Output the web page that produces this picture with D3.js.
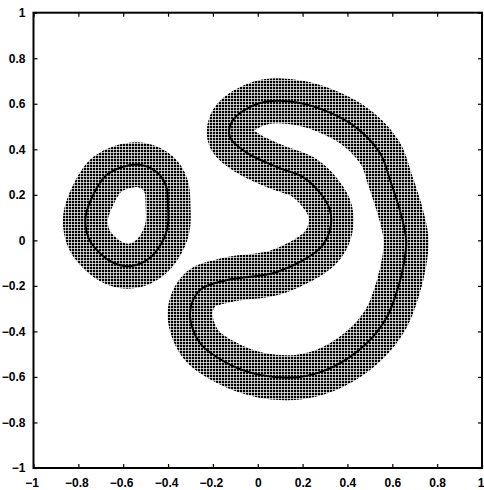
<!DOCTYPE html>
<html>
<head>
<meta charset="utf-8">
<script src="https://cdn.jsdelivr.net/npm/d3@7"></script>
<style>
  html, body { margin: 0; padding: 0; background: #fff; }
  svg { display: block; }
  .tick text { font-family: "Liberation Sans", Arial, sans-serif; font-weight: bold; font-size: 12px; fill: #000; }
</style>
</head>
<body>
<svg id="chart" width="484" height="490"></svg>
<script>
// ---- data ----
const xTicks = [-1, -0.8, -0.6, -0.4, -0.2, 0, 0.2, 0.4, 0.6, 0.8, 1];
const yTicks = [-1, -0.8, -0.6, -0.4, -0.2, 0, 0.2, 0.4, 0.6, 0.8, 1];

// closed curve of the small ring (x, y)
const ringX = [-0.519, -0.445, -0.408, -0.400, -0.400, -0.415, -0.475, -0.564, -0.653, -0.742, -0.765, -0.765, -0.682, -0.608];
const ringY = [ 0.331,  0.295,  0.236,  0.148,  0.075,  0.016, -0.072, -0.113, -0.094, -0.013,  0.045,  0.119,  0.280,  0.321];

// closed S-shaped curve (x, y)
const sX = [-0.258, -0.137, 0.086, 0.278, 0.322, 0.322, 0.278, 0.202, 0.086, -0.048, -0.124, -0.110, 0.010, 0.188, 0.411, 0.545, 0.590, 0.640, 0.662, 0.652, 0.625, 0.576, 0.487, 0.336, 0.188, 0.010, -0.137, -0.258, -0.302];
const sY = [-0.218, -0.174, -0.139, -0.034, 0.045, 0.133, 0.208, 0.278, 0.322, 0.384, 0.454, 0.529, 0.603, 0.603, 0.515, 0.384, 0.265, 0.110, 0.000, -0.100, -0.210, -0.337, -0.451, -0.556, -0.600, -0.591, -0.539, -0.451, -0.319];

// half-width of the band of grid points around each curve (data units)
const bandHalf = 0.1;
// spacing of the grid points (data units)
const gridStep = 0.0134;

// ---- layout ----
const svg = d3.select("#chart");
const mLeft = 33.5, mRight = 482, mTop = 12.7, mBottom = 468;
const x = d3.scaleLinear().domain([-1, 1]).range([mLeft, mRight]);
const y = d3.scaleLinear().domain([-1, 1]).range([mBottom, mTop]);

const fmt = d => d === 0 ? "0" : d3.format("~g")(d).replace("-", "\u2212");

// dot pattern
const cell = Math.round(x(gridStep) - x(0));
const defs = svg.append("defs");
const pat = defs.append("pattern")
  .attr("id", "dots")
  .attr("patternUnits", "userSpaceOnUse")
  .attr("x", 0).attr("y", 0)
  .attr("width", cell).attr("height", cell);
pat.append("rect").attr("x", 0).attr("y", 0).attr("width", cell - 0.7).attr("height", cell - 0.7).attr("fill", "#000");

const line = d3.line().x(d => x(d[0])).y(d => y(d[1])).curve(d3.curveCatmullRomClosed.alpha(0.5));
const ring = ringX.map((v, i) => [v, ringY[i]]);
const sCurve = sX.map((v, i) => [v, sY[i]]);
const bandW = x(bandHalf) - x(-bandHalf);

// bands of grid points
[ring, sCurve].forEach(c => {
  svg.append("path").attr("d", line(c))
    .attr("fill", "none")
    .attr("stroke", "url(#dots)")
    .attr("stroke-width", bandW)
    .attr("stroke-linejoin", "round");
});
// curves
[ring, sCurve].forEach(c => {
  svg.append("path").attr("d", line(c))
    .attr("fill", "none")
    .attr("stroke", "#000")
    .attr("stroke-width", 2);
});

// axes (MATLAB box style, inward ticks)
const tl = 4;
svg.append("g").attr("transform", `translate(0,${mBottom})`)
  .call(d3.axisBottom(x).tickValues(xTicks).tickFormat(fmt).tickSize(-tl).tickPadding(10))
  .call(g => g.select(".domain").remove())
  .call(g => g.selectAll(".tick text")
    .attr("dx", d => d < 0 ? -2 : (d === 1 ? 2 : 0))
    .attr("text-anchor", d => d === 1 ? "end" : "middle"));
svg.append("g").attr("transform", `translate(${mLeft},0)`)
  .call(d3.axisLeft(y).tickValues(yTicks).tickFormat(fmt).tickSize(-tl).tickPadding(8))
  .call(g => g.select(".domain").remove());
svg.append("g").attr("transform", `translate(0,${mTop})`)
  .call(d3.axisTop(x).tickValues(xTicks).tickFormat("").tickSize(-tl))
  .call(g => g.select(".domain").remove());
svg.append("g").attr("transform", `translate(${mRight},0)`)
  .call(d3.axisRight(y).tickValues(yTicks).tickFormat("").tickSize(-tl))
  .call(g => g.select(".domain").remove());
svg.selectAll(".tick line").attr("stroke", "#000").attr("stroke-width", 1.2);

svg.append("rect")
  .attr("x", mLeft).attr("y", mTop)
  .attr("width", mRight - mLeft).attr("height", mBottom - mTop)
  .attr("fill", "none").attr("stroke", "#000").attr("stroke-width", 2);
</script>
</body>
</html>
